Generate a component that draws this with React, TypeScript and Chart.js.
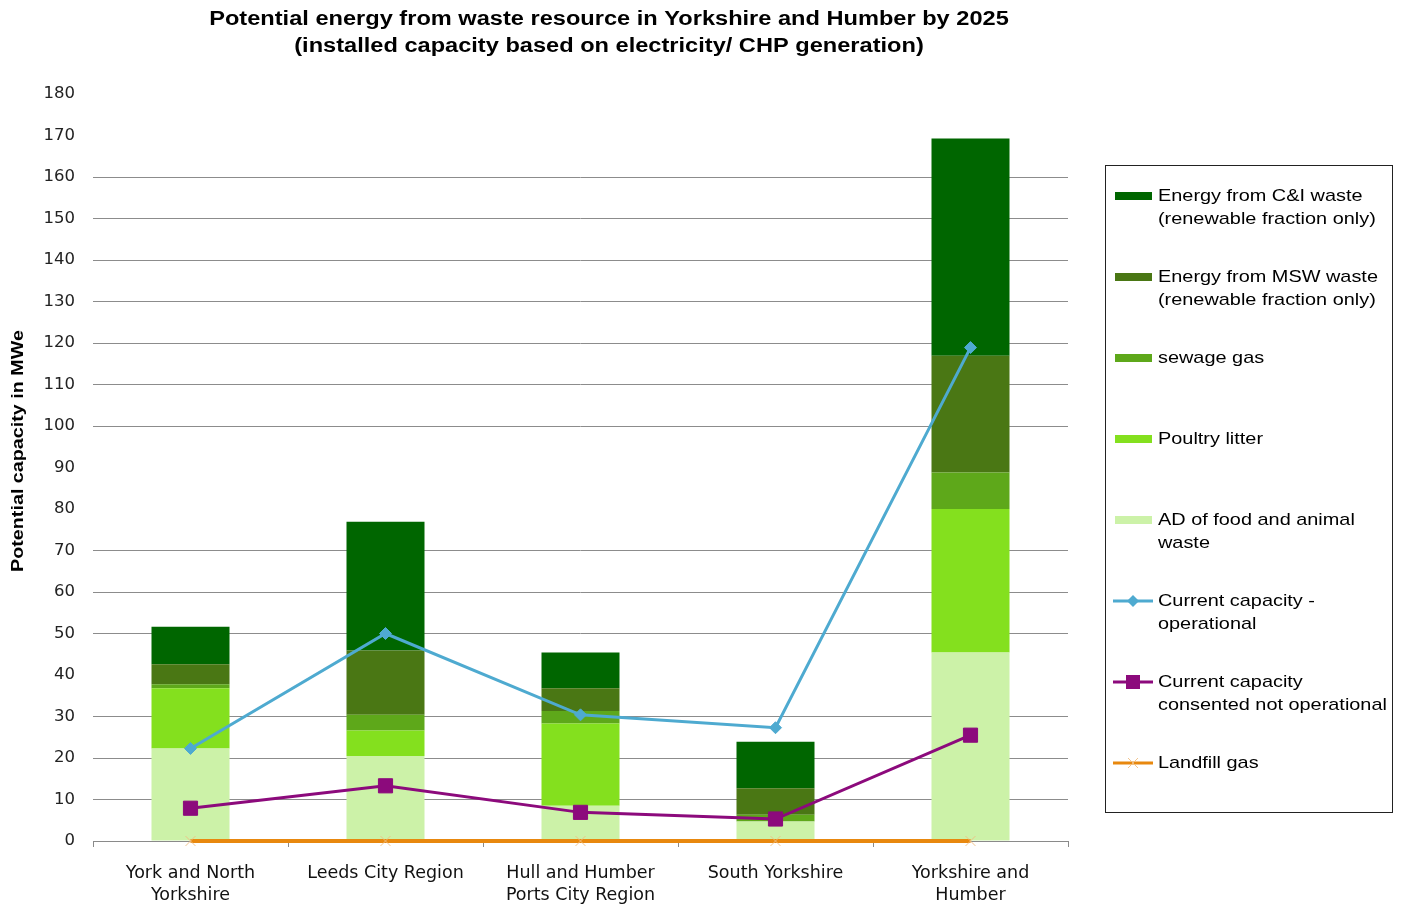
import React, { useEffect, useRef } from 'react';
import { Chart, registerables } from 'chart.js';

Chart.register(...registerables);

const categories: (string | string[])[] = [
  ['York and North', 'Yorkshire'],
  'Leeds City Region',
  ['Hull and Humber', 'Ports City Region'],
  'South Yorkshire',
  ['Yorkshire and', 'Humber'],
];

const adFoodAnimal = [22.3, 20.5, 8.5, 4.7, 45.4];
const poultryLitter = [14.5, 6.1, 19.8, 0, 34.6];
const sewageGas = [1.0, 3.8, 3.0, 1.6, 8.8];
const energyMSW = [4.8, 15.5, 5.5, 6.4, 28.1];
const energyCI = [9.0, 31.0, 8.6, 11.2, 52.4];
const currentOperational = [22.3, 50.0, 30.4, 27.3, 118.9];
const consentedNotOperational = [7.9, 13.3, 6.9, 5.3, 25.5];
const landfillGas = [0, 0, 0, 0, 0];

const yMax = 180;
const yStep = 10;
const hiddenGridValues = [40, 80, 90, 170, 180];

const titleLines = [
  'Potential energy from waste resource in Yorkshire and Humber by 2025',
  '(installed capacity based on electricity/ CHP generation)',
];
const yAxisTitle = 'Potential capacity in MWe';

const colors = {
  ci: '#006600',
  msw: '#4a7714',
  sewage: '#5ea81a',
  poultry: '#84e01e',
  ad: '#ccf2a8',
  operational: '#4eaad0',
  consented: '#8c0a7c',
  landfill: '#e8880e',
  landfillMarker: 'rgba(240,190,130,0.9)',
};

type LegendItem = { lines: string[]; color: string; kind: 'bar' | 'line'; point?: string };
const legendItems: LegendItem[] = [
  { lines: ['Energy from C&I waste', '(renewable fraction only)'], color: colors.ci, kind: 'bar' },
  { lines: ['Energy from MSW waste', '(renewable fraction only)'], color: colors.msw, kind: 'bar' },
  { lines: ['sewage gas'], color: colors.sewage, kind: 'bar' },
  { lines: ['Poultry litter'], color: colors.poultry, kind: 'bar' },
  { lines: ['AD of food and animal', 'waste'], color: colors.ad, kind: 'bar' },
  { lines: ['Current capacity -', 'operational'], color: colors.operational, kind: 'line', point: 'diamond' },
  { lines: ['Current capacity', 'consented not operational'], color: colors.consented, kind: 'line', point: 'square' },
  { lines: ['Landfill gas'], color: colors.landfill, kind: 'line', point: 'cross' },
];

const FONT = 'Arial, "Liberation Sans", Helvetica, sans-serif';
const TICK_FONT = '"DejaVu Sans", Verdana, sans-serif';
const STRETCH = 1.17;

function stretchedText(ctx: CanvasRenderingContext2D, text: string, x: number, y: number, sx: number) {
  ctx.save();
  ctx.translate(x, y);
  ctx.scale(sx, 1);
  ctx.fillText(text, 0, 0);
  ctx.restore();
}

const decorPlugin = {
  id: 'decor',
  afterDraw(chart: any) {
    const ctx: CanvasRenderingContext2D = chart.ctx;
    const area = chart.chartArea;
    ctx.save();
    // Title
    ctx.fillStyle = '#000';
    ctx.font = `bold 20px ${FONT}`;
    ctx.textAlign = 'center';
    ctx.textBaseline = 'middle';
    const tx = 609;
    stretchedText(ctx, titleLines[0], tx, 19, 1.18);
    stretchedText(ctx, titleLines[1], tx, 46, 1.18);

    // Y axis title
    ctx.save();
    ctx.translate(18, 451);
    ctx.rotate(-Math.PI / 2);
    ctx.scale(1.16, 1);
    ctx.font = `bold 17px ${FONT}`;
    ctx.fillText(yAxisTitle, 0, 0);
    ctx.restore();

    // Legend box
    const lx = area.right + 37;
    const ly = 165;
    const lw = 287;
    const lh = 647;
    ctx.strokeStyle = '#222';
    ctx.lineWidth = 1;
    ctx.strokeRect(lx + 0.5, ly + 0.5, lw, lh);
    ctx.textAlign = 'left';
    ctx.font = `17px ${FONT}`;
    legendItems.forEach((it, i) => {
      const cy = 196 + i * 81;
      const sx = lx + 10;
      if (it.kind === 'bar') {
        ctx.fillStyle = it.color;
        ctx.fillRect(sx, cy - 4, 37, 8);
      } else {
        ctx.strokeStyle = it.color;
        ctx.lineWidth = 3;
        ctx.beginPath();
        ctx.moveTo(sx - 2, cy);
        ctx.lineTo(sx + 38, cy);
        ctx.stroke();
        const mx = sx + 18;
        ctx.fillStyle = it.color;
        if (it.point === 'diamond') {
          ctx.beginPath();
          ctx.moveTo(mx, cy - 6);
          ctx.lineTo(mx + 6, cy);
          ctx.lineTo(mx, cy + 6);
          ctx.lineTo(mx - 6, cy);
          ctx.closePath();
          ctx.fill();
        } else if (it.point === 'square') {
          ctx.fillRect(mx - 7, cy - 7, 14, 14);
        } else {
          ctx.strokeStyle = colors.landfillMarker;
          ctx.lineWidth = 1;
          ctx.beginPath();
          ctx.moveTo(mx - 5, cy - 5);
          ctx.lineTo(mx + 5, cy + 5);
          ctx.moveTo(mx + 5, cy - 5);
          ctx.lineTo(mx - 5, cy + 5);
          ctx.stroke();
        }
      }
      ctx.fillStyle = '#000';
      it.lines.forEach((t, j) => {
        stretchedText(ctx, t, sx + 43, cy + j * 23, STRETCH);
      });
    });
    ctx.restore();
  },
};

export default function App() {
  const ref = useRef<HTMLCanvasElement | null>(null);
  useEffect(() => {
    document.body.style.margin = '0';
    const canvas = ref.current!;
    const lineCommon = { type: 'line' as const, order: 0, borderWidth: 3, pointBorderWidth: 1, clip: false };
    const chart = new Chart(canvas, {
      type: 'bar',
      data: {
        labels: categories as any,
        datasets: [
          { ...lineCommon, label: 'Current capacity - operational', data: currentOperational, stack: 'op', borderColor: colors.operational, backgroundColor: colors.operational, pointStyle: 'rectRot', pointRadius: 6 } as any,
          { ...lineCommon, label: 'Current capacity consented not operational', data: consentedNotOperational, stack: 'cons', borderColor: colors.consented, backgroundColor: colors.consented, pointStyle: 'rect', pointRadius: 10 } as any,
          { ...lineCommon, label: 'Landfill gas', data: landfillGas, stack: 'lf', borderWidth: 4, borderColor: colors.landfill, backgroundColor: colors.landfill, pointBorderColor: colors.landfillMarker, pointStyle: 'crossRot', pointRadius: 7 } as any,
          { label: 'AD of food and animal waste', data: adFoodAnimal, backgroundColor: colors.ad, stack: 'bars', order: 1 },
          { label: 'Poultry litter', data: poultryLitter, backgroundColor: colors.poultry, stack: 'bars', order: 1 },
          { label: 'sewage gas', data: sewageGas, backgroundColor: colors.sewage, stack: 'bars', order: 1 },
          { label: 'Energy from MSW waste (renewable fraction only)', data: energyMSW, backgroundColor: colors.msw, stack: 'bars', order: 1 },
          { label: 'Energy from C&I waste (renewable fraction only)', data: energyCI, backgroundColor: colors.ci, stack: 'bars', order: 1 },
        ],
      },
      options: {
        responsive: false,
        animation: false,
        layout: { padding: { top: 94, right: 335, left: 0, bottom: 0 } },
        datasets: { bar: { barPercentage: 0.4, categoryPercentage: 1 } },
        plugins: {
          legend: { display: false },
          title: { display: false },
          tooltip: { enabled: false },
        },
        scales: {
          x: {
            stacked: true,
            offset: true,
            grid: { display: true, offset: true, drawOnChartArea: false, drawTicks: true, tickLength: 6, color: '#8a8a8a' },
            border: { display: true, color: '#8a8a8a', width: 1 },
            ticks: { color: '#111', font: { family: TICK_FONT, size: 17.5, lineHeight: 1.27 }, padding: 15, maxRotation: 0, autoSkip: false },
            afterFit: (s: any) => { s.height = 64; },
          },
          y: {
            stacked: true,
            min: 0,
            max: yMax,
            border: { display: false },
            grid: {
              drawTicks: false,
              lineWidth: 1,
              color: (c: any) => (hiddenGridValues.includes(c.tick?.value) ? 'rgba(0,0,0,0)' : '#8c8c8c'),
            },
            ticks: { stepSize: yStep, color: '#222', font: { family: TICK_FONT, size: 16.5 }, padding: 18 },
            afterFit: (s: any) => { s.width = 93; },
          },
        },
      },
      plugins: [decorPlugin],
    });
    return () => chart.destroy();
  }, []);
  return <canvas ref={ref} width={1403} height={905} style={{ display: 'block' }} />;
}
